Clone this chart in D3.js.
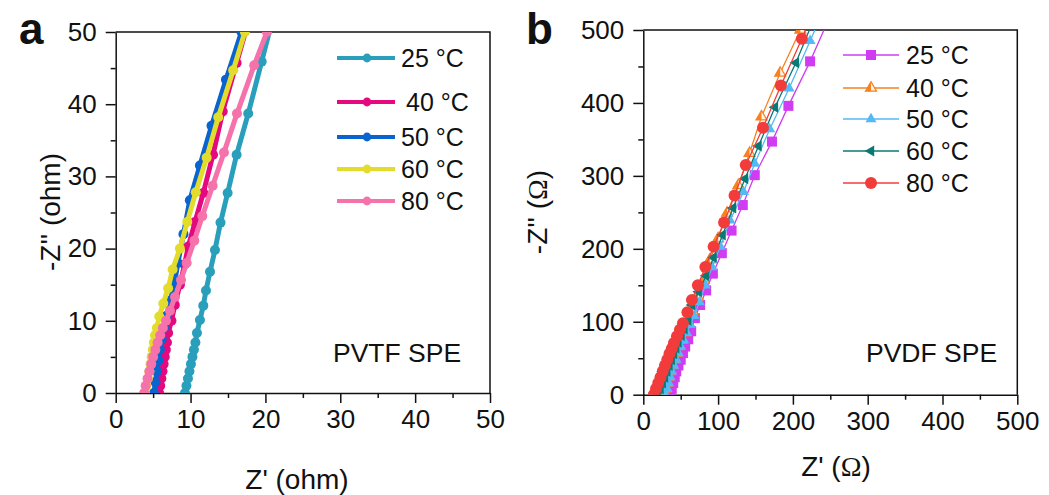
<!DOCTYPE html>
<html>
<head>
<meta charset="utf-8">
<script src="https://cdn.jsdelivr.net/npm/d3@7"></script>
<style>
  body { margin: 0; background: #fff; }
  text { font-family: "Liberation Sans", Arial, sans-serif; fill: #111; }
</style>
</head>
<body>
<svg width="1049" height="495"></svg>
<script>
// ---- data ----
var tempLabels = ["25 °C", "40 °C", "50 °C", "60 °C", "80 °C"];

// panel a: PVTF SPE, [Z', -Z''] in ohm
var pvtf25 = [[9.25,0],[9.45,1],[9.65,2],[9.85,3],[10.05,4],[10.25,5],[10.45,6],[10.65,7],[10.85,8.3],[11.25,10.1],[11.7,12.1],[12.06,14.2],[12.6,16.8],[13.26,19.8],[14.0,23.6],[14.95,27.7],[16.15,33.0],[17.7,38.7],[19.5,45.9],[21.0,52]];
var pvtf40 = [[5.8,0],[5.95,1],[6.1,2],[6.25,3],[6.4,4],[6.55,5],[6.7,6],[6.85,7],[7.0,8.3],[7.45,10],[7.9,12.2],[8.58,15],[9.2,17.8],[9.7,20.3],[10.6,23.7],[11.7,27.7],[13.0,33],[14.3,39],[16.15,45.7],[17.6,51]];
var pvtf50 = [[5.1,0],[5.3,1.5],[5.5,3],[5.7,4.5],[5.9,6],[6.15,7.5],[6.45,9],[6.8,10.7],[7.3,12.8],[7.85,15.2],[8.3,18.0],[9.05,22.0],[9.9,26.7],[11.25,31.5],[12.8,37],[14.73,43.4],[16.8,50],[17.6,52.5]];
var pvtf60 = [[3.9,0],[4.1,1],[4.3,2],[4.5,3],[4.65,4],[4.8,5],[4.95,6],[5.1,7],[5.25,8],[5.5,9],[5.82,10.6],[6.36,12.4],[7.0,14.5],[7.6,17.1],[8.58,20],[9.56,23.7],[10.7,27.8],[12.15,32.6],[13.7,38.2],[15.7,44.7],[17.26,50],[18.0,52.5]];
var pvtf80 = [[3.8,0],[4.0,1],[4.25,2],[4.5,3],[4.75,4],[5.0,5],[5.3,6],[5.6,7],[5.95,8],[6.3,9],[6.72,10],[7.25,11.4],[7.92,13.3],[8.72,15.65],[9.48,18],[10.5,21.1],[11.57,24.5],[12.95,28.7],[14.46,33.3],[16.2,38.7],[18.5,45.4],[20.2,50],[21.0,52.5]];

// panel b: PVDF SPE, [Z', -Z''] in ohm
var pvdf25 = [[36,0],[38,8],[40,16],[42,24],[44,32],[47,40],[50,48],[53,57],[56,66],[60,76],[64,87],[69,105],[76,123],[84,143],[93,166],[105,194],[118,225],[133,260],[149,301],[172,347],[194,396],[223,457],[248,515]];
var pvdf40 = [[27,0],[29,8],[31,16],[33,24],[35,32],[38,40],[41,48],[44,57],[47,66],[51,75],[55,85],[60,97],[66,114],[73,134],[81,157],[89,185],[100,214],[112,249],[127,287],[142,331],[158,381],[183,441],[210,500],[238,560]];
var pvdf50 = [[30,0],[32,8],[34,16],[36,24],[38,32],[41,40],[44,48],[47,57],[50,66],[54,75],[58,85],[63,96],[68,108],[75,127],[83,150],[92,175],[103,203],[116,239],[134,278],[149,317],[169,364],[195,420],[223,485],[240,525]];
var pvdf60 = [[20,0],[23,8],[26,16],[29,24],[32,32],[35,40],[38,48],[41,56],[44,64],[47,72],[51,81],[55,90],[60,102],[65,123],[74,141],[84,163],[94,188],[106,219],[120,256],[136,296],[154,341],[176,394],[204,455],[228,515]];
var pvdf80 = [[14,0],[17,8],[20,16],[23,24],[26,32],[29,40],[32,48],[35,56],[38,63],[41,71],[45,80],[49,89],[53,98],[59,113],[65,130],[73,150],[83,175],[94,203],[108,236],[122,273],[137,315],[160,366],[184,424],[212,488],[225,520]];

var ticksA = [0, 10, 20, 30, 40, 50];
var minorA = [5, 15, 25, 35, 45];
var ticksB = [0, 100, 200, 300, 400, 500];
var minorB = [50, 150, 250, 350, 450];

var colorsA = ["#2a9fbb", "#e5097f", "#0a64cf", "#e3dc2c", "#f572aa"];
var colorsB = ["#d03cf2", "#f5821f", "#55b9f5", "#087a73", "#f23c3c"];

var svg = d3.select("svg");

function panel(id, box, domain, ticks, minor) {
  var x = d3.scaleLinear().domain(domain).range([box.left, box.right]);
  var y = d3.scaleLinear().domain(domain).range([box.bottom, box.top]);
  var g = svg.append("g");

  g.append("clipPath").attr("id", id)
    .append("rect")
      .attr("x", box.left).attr("y", box.top)
      .attr("width", box.right - box.left).attr("height", box.bottom - box.top);

  // frame on top and right
  g.append("path")
      .attr("d", "M" + box.left + "," + box.top + "H" + box.right + "V" + box.bottom)
      .attr("fill", "none").attr("stroke", "#111").attr("stroke-width", 1.5);

  var ax = g.append("g").attr("transform", "translate(0," + box.bottom + ")");
  ax.call(d3.axisBottom(x).tickValues(ticks).tickSize(10).tickSizeOuter(0).tickPadding(7));
  ax.append("g").call(d3.axisBottom(x).tickValues(minor).tickSize(5).tickSizeOuter(0).tickFormat(""))
    .select(".domain").remove();

  var ay = g.append("g").attr("transform", "translate(" + box.left + ",0)");
  ay.call(d3.axisLeft(y).tickValues(ticks).tickSize(10).tickSizeOuter(0).tickPadding(9));
  ay.append("g").call(d3.axisLeft(y).tickValues(minor).tickSize(5).tickSizeOuter(0).tickFormat(""))
    .select(".domain").remove();

  g.selectAll(".domain, .tick line").attr("stroke", "#111").attr("stroke-width", 1.5);
  g.selectAll(".tick text").attr("font-size", 26).attr("fill", "#111")
    .attr("font-family", "'Liberation Sans', Arial, sans-serif");

  var plot = g.append("g").attr("clip-path", "url(#" + id + ")");
  return {x: x, y: y, g: g, plot: plot};
}

// ---------------- panel a ----------------
var A = panel("clipA", {left: 115.7, right: 490, top: 32, bottom: 393}, [0, 50], ticksA, minorA);
var seriesA = [pvtf25, pvtf40, pvtf50, pvtf60, pvtf80];
var lineA = d3.line().x(function(d) { return A.x(d[0]); }).y(function(d) { return A.y(d[1]); });

seriesA.forEach(function(s, i) {
  var c = colorsA[i];
  A.plot.append("path").datum(s)
      .attr("d", lineA).attr("fill", "none")
      .attr("stroke", c).attr("stroke-width", 5).attr("stroke-linejoin", "round");
  A.plot.selectAll(".pa" + i).data(s).enter().append("circle")
      .attr("cx", function(d) { return A.x(d[0]); })
      .attr("cy", function(d) { return A.y(d[1]); })
      .attr("r", 5).attr("fill", c);
});

var legYA = [58, 102, 137, 169, 201];
tempLabels.forEach(function(t, i) {
  var gy = legYA[i];
  A.g.append("line").attr("x1", 337).attr("x2", 395).attr("y1", gy).attr("y2", gy)
      .attr("stroke", colorsA[i]).attr("stroke-width", 4);
  A.g.append("circle").attr("cx", 367).attr("cy", gy).attr("r", 4.4).attr("fill", colorsA[i]);
  A.g.append("text").attr("x", i === 1 ? 406 : 401).attr("y", gy + 9)
      .attr("font-size", 25).text(t);
});

A.g.append("text").attr("x", 333).attr("y", 362).attr("font-size", 26.5).text("PVTF SPE");
A.g.append("text").attr("x", 297).attr("y", 489).attr("font-size", 28)
    .attr("text-anchor", "middle").text("Z' (ohm)");
A.g.append("text").attr("transform", "translate(60,212) rotate(-90)")
    .attr("font-size", 28).attr("text-anchor", "middle").text("-Z'' (ohm)");
A.g.append("text").attr("x", 19).attr("y", 44).attr("font-size", 44)
    .attr("font-weight", "bold").text("a");

// ---------------- panel b ----------------
var B = panel("clipB", {left: 643.3, right: 1017.3, top: 30, bottom: 394.7}, [0, 500], ticksB, minorB);
var seriesB = [pvdf25, pvdf40, pvdf50, pvdf60, pvdf80];
var lineB = d3.line().x(function(d) { return B.x(d[0]); }).y(function(d) { return B.y(d[1]); });

var tri = 11, triH = tri * Math.sqrt(3) / 2;
function marker(sel, i) {
  var c = colorsB[i];
  if (i === 0) {
    sel.append("rect").attr("x", -5).attr("y", -5).attr("width", 10).attr("height", 10).attr("fill", c);
  } else if (i === 1) {
    sel.append("path")
        .attr("d", "M0," + (-triH * 2 / 3) + "L" + (tri / 2) + "," + (triH / 3) + "L" + (-tri / 2) + "," + (triH / 3) + "Z")
        .attr("fill", "#fdf1e2").attr("stroke", c).attr("stroke-width", 1.2);
    sel.append("path")
        .attr("d", "M0," + (-triH * 2 / 3) + "L0," + (triH / 3) + "L" + (-tri / 2) + "," + (triH / 3) + "Z")
        .attr("fill", c);
  } else if (i === 2) {
    sel.append("path")
        .attr("d", "M0," + (-triH * 2 / 3) + "L" + (tri / 2) + "," + (triH / 3) + "L" + (-tri / 2) + "," + (triH / 3) + "Z")
        .attr("fill", c);
  } else if (i === 3) {
    sel.append("path")
        .attr("d", "M" + (-triH * 2 / 3) + ",0L" + (triH / 3) + "," + (-tri / 2) + "L" + (triH / 3) + "," + (tri / 2) + "Z")
        .attr("fill", c);
  } else {
    sel.append("circle").attr("r", 6).attr("fill", c);
  }
}

seriesB.forEach(function(s, i) {
  B.plot.append("path").datum(s)
      .attr("d", lineB).attr("fill", "none")
      .attr("stroke", colorsB[i]).attr("stroke-width", 1.3);
  B.plot.selectAll(".pb" + i).data(s).enter().append("g")
      .attr("transform", function(d) { return "translate(" + B.x(d[0]) + "," + B.y(d[1]) + ")"; })
      .each(function() { marker(d3.select(this), i); });
});

var legYB = [55, 88, 119, 151, 183];
tempLabels.forEach(function(t, i) {
  var gy = legYB[i];
  B.g.append("line").attr("x1", 843).attr("x2", 899).attr("y1", gy).attr("y2", gy)
      .attr("stroke", colorsB[i]).attr("stroke-width", 1.5);
  var m = B.g.append("g").attr("transform", "translate(871," + gy + ")");
  marker(m, i);
  B.g.append("text").attr("x", 906).attr("y", gy + 9).attr("font-size", 25).text(t);
});

B.g.append("text").attr("x", 866).attr("y", 362).attr("font-size", 26.5).text("PVDF SPE");

var xtB = B.g.append("text").attr("x", 836).attr("y", 476).attr("font-size", 28).attr("text-anchor", "middle");
xtB.append("tspan").text("Z' (");
xtB.append("tspan").attr("font-family", "'Liberation Serif', 'Times New Roman', serif").text("Ω");
xtB.append("tspan").text(")");

var ytB = B.g.append("text").attr("transform", "translate(547,212) rotate(-90)")
    .attr("font-size", 28).attr("text-anchor", "middle");
ytB.append("tspan").text("-Z'' (");
ytB.append("tspan").attr("font-family", "'Liberation Serif', 'Times New Roman', serif").text("Ω");
ytB.append("tspan").text(")");

B.g.append("text").attr("x", 526).attr("y", 44).attr("font-size", 44)
    .attr("font-weight", "bold").text("b");
</script>
</body>
</html>
